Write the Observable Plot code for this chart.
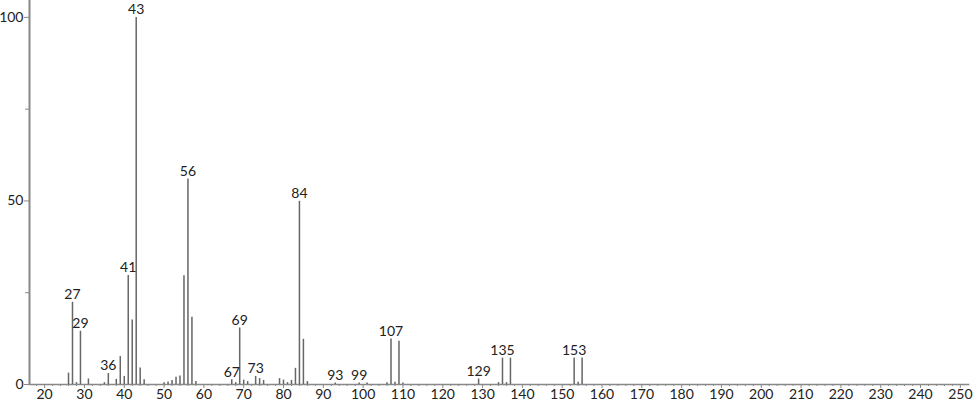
<!DOCTYPE html>
<html>
<head>
<meta charset="utf-8">
<script src="https://cdn.jsdelivr.net/npm/d3@7"></script>
<script src="https://cdn.jsdelivr.net/npm/@observablehq/plot@0.6"></script>
<style>
  html, body { margin: 0; padding: 0; background: #fff; }
  #chart svg { display: block; }
</style>
</head>
<body>
<div id="chart"></div>
<script>
const mz = [26,27,28,29,31,35,36,38,39,40,41,42,43,44,45,50,51,52,53,54,55,56,57,58,67,68,69,70,71,73,74,75,79,80,81,82,83,84,85,86,93,99,101,106,107,108,109,110,129,134,135,136,137,153,154,155];
const intensity = [3.1,22.4,0.5,14.5,1.5,0.5,3,1.4,7.6,2.2,29.7,17.6,100,4.5,1.3,0.5,0.7,1.1,2,2.3,29.6,56,18.3,0.8,1.3,0.5,15.4,1.2,0.8,2.2,1.6,1.1,1.6,1.2,0.5,1.1,4.4,49.9,12.3,0.8,0.4,0.4,0.4,0.5,12.4,0.6,11.8,0.4,1.5,0.5,7.2,0.5,7.2,7.2,0.6,7.2];
const labeledPeaks = [27,29,36,41,43,56,67,69,73,84,93,99,107,129,135,153];
const xMajorTicks = [20,30,40,50,60,70,80,90,100,110,120,130,140,150,160,170,180,190,200,210,220,230,240,250];
const yMajorTicks = [0,50,100];
const yMinorTicks = [25,75];

const peaks = mz.map((m, i) => ({mz: m, value: intensity[i]}));
const labels = peaks.filter(d => labeledPeaks.includes(d.mz));
const xMinorTicks = d3.range(18, 252, 2).filter(d => d % 10 !== 0);

const axisColor = "#888";
const textColor = "#222";
const chart = Plot.plot({
  width: 974,
  height: 406,
  marginLeft: 29,
  marginRight: 4.6,
  marginTop: 0,
  marginBottom: 22,
  style: {fontFamily: "Lato, 'Open Sans', sans-serif", fontSize: "14px", color: textColor, background: "#fff"},
  x: {domain: [16.2, 252.4]},
  y: {domain: [0, 104.6]},
  marks: [
    Plot.axisX({ticks: xMinorTicks, tickSize: 2, tickFormat: () => "", label: null, stroke: axisColor}),
    Plot.axisX({ticks: xMajorTicks, tickSize: 4, tickPadding: 1, label: null, stroke: axisColor, fill: textColor, fontSize: 14}),
    Plot.axisY({ticks: yMinorTicks, tickSize: 4, tickFormat: () => "", label: null, stroke: axisColor}),
    Plot.axisY({ticks: yMajorTicks, tickSize: 5, tickPadding: 1, label: null, stroke: axisColor, fill: textColor, fontSize: 14}),
    Plot.ruleY([0], {stroke: axisColor, strokeWidth: 1.5}),
    Plot.ruleX([16.2], {stroke: axisColor, strokeWidth: 2}),
    Plot.ruleX(peaks, {x: "mz", y1: 0, y2: "value", stroke: "#666", strokeWidth: 1.5}),
    Plot.text(labels, {x: "mz", y: "value", text: d => String(d.mz), lineAnchor: "bottom", dy: -3, fontSize: 14, fill: textColor})
  ]
});
document.getElementById("chart").appendChild(chart);
</script>
</body>
</html>
